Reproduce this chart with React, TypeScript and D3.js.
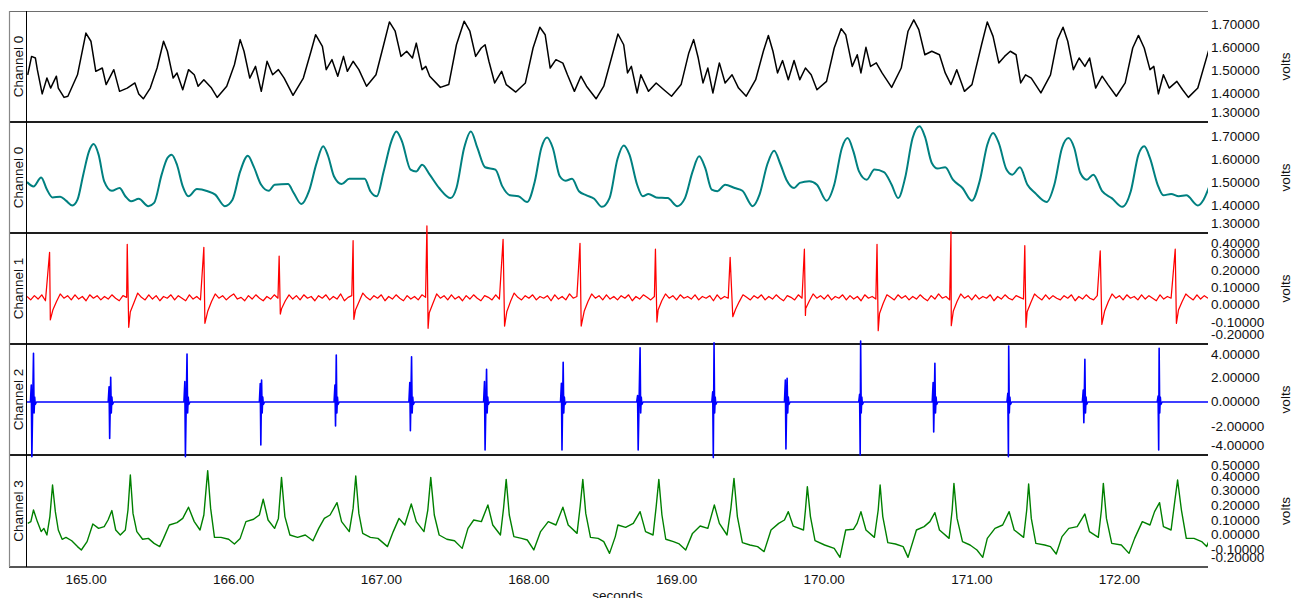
import React from 'react';
import * as d3 from 'd3';

const WIDTH = 1297;
const HEIGHT = 598;
const FRAME_LEFT = 9;
const PLOT_LEFT = 27;
const PLOT_RIGHT = 1208;
const FONT = '"Liberation Sans", Arial, Helvetica, sans-serif';

const timeDomain: [number, number] = [164.6, 172.6];
const timeTicks = [165, 166, 167, 168, 169, 170, 171, 172];

const voltTicks0 = [1.3, 1.4, 1.5, 1.6, 1.7];
const voltTicks1 = [-0.2, -0.1, 0, 0.1, 0.2, 0.3, 0.4];
const voltTicks2 = [-4, -2, 0, 2, 4];
const voltTicks3 = [-0.2, -0.1, 0, 0.1, 0.2, 0.3, 0.4, 0.5];

type Pt = [number, number];

// Channel 0, raw trace (seconds, volts)
const ch0Raw: Pt[] = [
  [164.605, 1.482], [164.631, 1.561], [164.657, 1.554], [164.670, 1.504], [164.703, 1.400], [164.735, 1.468],
  [164.760, 1.425], [164.799, 1.476], [164.812, 1.425], [164.851, 1.385], [164.877, 1.390], [164.942, 1.482],
  [164.999, 1.661], [165.033, 1.626], [165.066, 1.497], [165.110, 1.511], [165.136, 1.440], [165.188, 1.504],
  [165.227, 1.411], [165.279, 1.425], [165.331, 1.447], [165.357, 1.400], [165.388, 1.379], [165.435, 1.425],
  [165.481, 1.511], [165.525, 1.626], [165.551, 1.583], [165.590, 1.468], [165.616, 1.490], [165.655, 1.418],
  [165.694, 1.504], [165.733, 1.482], [165.759, 1.433], [165.798, 1.461], [165.850, 1.425], [165.888, 1.385],
  [165.953, 1.433], [166.005, 1.525], [166.044, 1.633], [166.070, 1.583], [166.109, 1.468], [166.148, 1.518],
  [166.187, 1.411], [166.226, 1.540], [166.264, 1.482], [166.303, 1.504], [166.342, 1.468], [166.402, 1.394],
  [166.472, 1.468], [166.524, 1.583], [166.555, 1.654], [166.601, 1.604], [166.627, 1.504], [166.666, 1.547],
  [166.705, 1.476], [166.744, 1.561], [166.770, 1.497], [166.809, 1.540], [166.848, 1.504], [166.900, 1.433],
  [166.964, 1.482], [167.016, 1.611], [167.055, 1.709], [167.094, 1.669], [167.133, 1.561], [167.172, 1.583],
  [167.211, 1.554], [167.237, 1.618], [167.276, 1.504], [167.302, 1.518], [167.328, 1.476], [167.400, 1.428],
  [167.457, 1.440], [167.509, 1.611], [167.561, 1.712], [167.600, 1.669], [167.639, 1.561], [167.677, 1.597],
  [167.703, 1.611], [167.729, 1.540], [167.768, 1.447], [167.815, 1.497], [167.846, 1.440], [167.911, 1.408],
  [167.976, 1.447], [168.028, 1.597], [168.074, 1.686], [168.110, 1.654], [168.144, 1.511], [168.183, 1.547],
  [168.230, 1.532], [168.261, 1.482], [168.308, 1.411], [168.352, 1.476], [168.390, 1.433], [168.455, 1.379],
  [168.507, 1.433], [168.559, 1.554], [168.603, 1.657], [168.642, 1.611], [168.668, 1.490], [168.694, 1.518],
  [168.733, 1.404], [168.758, 1.482], [168.810, 1.411], [168.862, 1.447], [168.914, 1.418], [168.966, 1.390],
  [169.031, 1.440], [169.083, 1.576], [169.116, 1.633], [169.147, 1.554], [169.179, 1.447], [169.212, 1.511],
  [169.246, 1.404], [169.290, 1.533], [169.329, 1.447], [169.376, 1.482], [169.420, 1.425], [169.472, 1.390],
  [169.536, 1.461], [169.588, 1.583], [169.622, 1.651], [169.653, 1.583], [169.684, 1.490], [169.718, 1.543],
  [169.757, 1.461], [169.796, 1.543], [169.835, 1.461], [169.873, 1.511], [169.912, 1.482], [169.951, 1.418],
  [170.016, 1.454], [170.068, 1.597], [170.115, 1.680], [170.146, 1.654], [170.190, 1.518], [170.224, 1.568],
  [170.249, 1.490], [170.283, 1.600], [170.314, 1.518], [170.353, 1.533], [170.392, 1.490], [170.457, 1.428],
  [170.522, 1.511], [170.568, 1.669], [170.607, 1.718], [170.641, 1.676], [170.682, 1.568], [170.729, 1.583],
  [170.781, 1.568], [170.820, 1.490], [170.859, 1.440], [170.898, 1.504], [170.950, 1.411], [171.001, 1.440],
  [171.066, 1.611], [171.105, 1.709], [171.144, 1.647], [171.183, 1.533], [171.222, 1.561], [171.261, 1.583],
  [171.300, 1.568], [171.331, 1.447], [171.364, 1.482], [171.403, 1.468], [171.468, 1.404], [171.533, 1.482],
  [171.580, 1.633], [171.618, 1.686], [171.650, 1.626], [171.688, 1.504], [171.727, 1.554], [171.766, 1.518],
  [171.798, 1.554], [171.839, 1.425], [171.883, 1.476], [171.922, 1.440], [171.979, 1.390], [172.039, 1.447],
  [172.090, 1.597], [172.129, 1.651], [172.168, 1.597], [172.207, 1.504], [172.233, 1.518], [172.264, 1.400],
  [172.298, 1.482], [172.337, 1.425], [172.389, 1.454], [172.428, 1.418], [172.467, 1.385], [172.531, 1.425],
  [172.609, 1.597],
];

// Channel 0, smoothed trace
const ch0Smooth: Pt[] = [
  [164.600, 1.500], [164.644, 1.481], [164.696, 1.520], [164.735, 1.467], [164.773, 1.433], [164.825, 1.436],
  [164.864, 1.419], [164.908, 1.398], [164.942, 1.423], [164.981, 1.532], [165.020, 1.633], [165.051, 1.665],
  [165.085, 1.619], [165.123, 1.503], [165.175, 1.462], [165.227, 1.474], [165.266, 1.438], [165.305, 1.416],
  [165.357, 1.427], [165.422, 1.395], [165.461, 1.409], [165.512, 1.532], [165.551, 1.604], [165.580, 1.619],
  [165.616, 1.575], [165.655, 1.481], [165.694, 1.438], [165.751, 1.470], [165.824, 1.460], [165.875, 1.445],
  [165.940, 1.395], [165.992, 1.423], [166.044, 1.546], [166.096, 1.614], [166.135, 1.568], [166.186, 1.488],
  [166.238, 1.462], [166.277, 1.488], [166.368, 1.491], [166.407, 1.452], [166.459, 1.404], [166.510, 1.460],
  [166.562, 1.583], [166.606, 1.655], [166.640, 1.612], [166.679, 1.525], [166.731, 1.491], [166.783, 1.514],
  [166.887, 1.514], [166.926, 1.460], [166.970, 1.438], [167.016, 1.546], [167.068, 1.677], [167.102, 1.720],
  [167.140, 1.677], [167.198, 1.554], [167.237, 1.546], [167.276, 1.575], [167.328, 1.532], [167.392, 1.474],
  [167.470, 1.430], [167.509, 1.474], [167.561, 1.648], [167.607, 1.720], [167.651, 1.648], [167.703, 1.564],
  [167.773, 1.554], [167.820, 1.481], [167.872, 1.442], [167.929, 1.438], [167.988, 1.413], [168.040, 1.503],
  [168.084, 1.648], [168.123, 1.694], [168.162, 1.648], [168.209, 1.525], [168.248, 1.506], [168.292, 1.514],
  [168.339, 1.460], [168.390, 1.442], [168.442, 1.427], [168.494, 1.392], [168.546, 1.430], [168.600, 1.600],
  [168.642, 1.659], [168.681, 1.619], [168.733, 1.488], [168.771, 1.438], [168.810, 1.448], [168.862, 1.433],
  [168.940, 1.430], [169.005, 1.395], [169.057, 1.430], [169.109, 1.546], [169.153, 1.612], [169.194, 1.561],
  [169.238, 1.467], [169.277, 1.460], [169.329, 1.488], [169.394, 1.474], [169.446, 1.462], [169.516, 1.395],
  [169.562, 1.445], [169.614, 1.575], [169.661, 1.636], [169.705, 1.575], [169.744, 1.510], [169.796, 1.474],
  [169.835, 1.496], [169.899, 1.503], [169.951, 1.488], [170.016, 1.419], [170.068, 1.488], [170.120, 1.648],
  [170.159, 1.691], [170.198, 1.633], [170.236, 1.546], [170.288, 1.510], [170.340, 1.554], [170.405, 1.543],
  [170.457, 1.488], [170.501, 1.430], [170.548, 1.517], [170.599, 1.691], [170.646, 1.742], [170.682, 1.698],
  [170.729, 1.583], [170.768, 1.559], [170.820, 1.564], [170.872, 1.510], [170.937, 1.474], [171.001, 1.419],
  [171.053, 1.503], [171.105, 1.662], [171.144, 1.713], [171.183, 1.669], [171.235, 1.554], [171.274, 1.532],
  [171.326, 1.564], [171.377, 1.488], [171.429, 1.452], [171.507, 1.413], [171.559, 1.488], [171.611, 1.648],
  [171.655, 1.691], [171.694, 1.648], [171.735, 1.539], [171.779, 1.510], [171.823, 1.532], [171.883, 1.460],
  [171.948, 1.430], [172.020, 1.392], [172.077, 1.460], [172.129, 1.619], [172.168, 1.655], [172.207, 1.604],
  [172.259, 1.488], [172.298, 1.442], [172.350, 1.448], [172.402, 1.438], [172.453, 1.442], [172.531, 1.398],
  [172.570, 1.423], [172.609, 1.481],
];

// Channel 1: baseline sampled every 25 ms from 164.6 s, plus the spikes
const ch1Start = 164.6;
const ch1Step = 0.025;
const ch1Baseline = [
  0.05, 0.03, 0.055, 0.035, 0.06, 0.025, 0.045, -0.03, 0.02, 0.065, 0.04, 0.055, 0.03, 0.06, 0.035, 0.05, 0.025, 0.06, 0.04, 0.055,
  0.03, 0.05, 0.035, 0.06, 0.04, 0.025, 0.055, 0.045, -0.04, 0.015, 0.07, 0.045, 0.03, 0.06, 0.035, 0.055, 0.025, 0.05, 0.04, 0.06,
  0.03, 0.055, 0.04, 0.025, 0.06, 0.035, 0.05, 0.03, 0.045, -0.035, 0.02, 0.065, 0.04, 0.055, 0.03, 0.05, 0.065, 0.035, 0.045, 0.025,
  0.055, 0.035, 0.06, 0.04, 0.025, 0.05, 0.035, 0.06, 0.04, -0.02, 0.025, 0.06, 0.035, 0.055, 0.03, 0.06, 0.04, 0.05, 0.025, 0.055,
  0.04, 0.06, 0.03, 0.05, 0.035, 0.065, 0.025, 0.045, 0.055, -0.03, 0.02, 0.07, 0.045, 0.03, 0.055, 0.04, 0.06, 0.025, 0.05, 0.035,
  0.06, 0.04, 0.025, 0.055, 0.035, 0.05, 0.03, 0.06, 0.045, -0.045, 0.01, 0.065, 0.04, 0.055, 0.03, 0.06, 0.035, 0.05, 0.025, 0.055,
  0.035, 0.06, 0.04, 0.025, 0.055, 0.045, 0.03, 0.06, 0.035, 0.05, -0.04, 0.02, 0.07, 0.045, 0.03, 0.055, 0.04, 0.06, 0.03, 0.05,
  0.04, 0.055, 0.025, 0.06, 0.035, 0.05, 0.03, 0.065, 0.04, 0.05, 0.035, -0.035, 0.02, 0.065, 0.04, 0.055, 0.03, 0.06, 0.035, 0.05,
  0.03, 0.055, 0.04, 0.06, 0.025, 0.05, 0.035, 0.06, 0.045, 0.03, 0.05, -0.03, 0.025, 0.065, 0.04, 0.055, 0.03, 0.06, 0.04, 0.05,
  0.035, 0.06, 0.03, 0.05, 0.04, 0.055, 0.025, 0.06, 0.035, 0.05, 0.04, 0.045, -0.025, 0.02, 0.06, 0.045, 0.03, 0.055, 0.04, 0.06,
  0.03, 0.05, 0.035, 0.06, 0.04, 0.025, 0.055, 0.045, 0.03, 0.06, 0.04, -0.02, 0.025, 0.065, 0.04, 0.055, 0.035, 0.06, 0.03, 0.05,
  0.04, 0.06, 0.03, 0.055, 0.035, 0.05, 0.025, 0.06, 0.04, 0.05, 0.035, -0.05, 0.01, 0.06, 0.045, 0.03, 0.06, 0.04, 0.055, 0.03,
  0.05, 0.035, 0.06, 0.04, 0.025, 0.055, 0.035, 0.065, 0.04, 0.05, 0.03, -0.035, 0.02, 0.065, 0.04, 0.055, 0.03, 0.06, 0.035, 0.05,
  0.04, 0.06, 0.025, 0.05, 0.035, 0.06, 0.04, 0.03, 0.055, 0.045, 0.035, -0.04, 0.015, 0.065, 0.045, 0.03, 0.06, 0.035, 0.055, 0.04,
  0.03, 0.055, 0.04, 0.06, 0.025, 0.05, 0.035, 0.06, 0.04, 0.03, 0.055, 0.045, -0.035, 0.02, 0.065, 0.04, 0.055, 0.03, 0.06, 0.04,
  0.05, 0.03, 0.06, 0.035, 0.055, 0.04, 0.025, 0.06, 0.035, 0.05, 0.04, 0.045, -0.03, 0.02, 0.065, 0.045, 0.03, 0.06, 0.035, 0.055,
  0.04,
];
// [peak time, peak volts, trough time, trough volts]
const ch1Spikes = [
  [164.753, 0.310, 164.758, -0.088], [165.279, 0.357, 165.289, -0.131], [165.798, 0.339, 165.805, -0.108],
  [166.308, 0.288, 166.316, -0.053], [166.809, 0.378, 166.814, -0.084], [167.309, 0.465, 167.317, -0.137],
  [167.825, 0.386, 167.835, -0.124], [168.346, 0.363, 168.354, -0.124], [168.857, 0.328, 168.867, -0.100],
  [169.363, 0.280, 169.381, -0.069], [169.866, 0.328, 169.873, -0.061], [170.358, 0.357, 170.366, -0.151],
  [170.859, 0.431, 170.861, -0.122], [171.359, 0.349, 171.367, -0.131], [171.870, 0.319, 171.881, -0.114],
  [172.378, 0.328, 172.386, -0.108],
];

// Channel 2: [trough time, peak time, pre-deflection, trough volts, peak volts]
const ch2Complexes = [
  [164.633, 164.644, 1.39, -4.46, 3.97], [165.160, 165.167, 1.25, -2.97, 2.01], [165.673, 165.684, 1.66, -4.46, 3.92],
  [166.184, 166.189, 1.50, -3.51, 1.80], [166.690, 166.695, 1.39, -1.96, 3.84], [167.197, 167.205, 1.58, -2.34, 3.70],
  [167.703, 167.713, 1.66, -3.92, 2.67], [168.224, 168.232, 1.52, -3.92, 3.24], [168.740, 168.753, 0.52, -3.92, 4.43],
  [169.249, 169.254, 0.84, -4.54, 4.84], [169.741, 169.749, 1.80, -3.84, 1.93], [170.244, 170.247, 0.63, -4.33, 4.98],
  [170.742, 170.750, 1.58, -2.45, 3.16], [171.248, 171.250, 0.71, -4.46, 4.57], [171.759, 171.766, 0.98, -1.69, 3.48],
  [172.266, 172.269, 0.49, -3.92, 4.38],
];
const ch2Ring = [-0.9, 0.4, -0.2];

// Channel 3
const ch3: Pt[] = [
  [164.605, 0.079], [164.626, 0.091], [164.644, 0.170], [164.670, 0.091], [164.696, 0.023], [164.714, 0.045],
  [164.735, 0.000], [164.755, 0.125], [164.773, 0.340], [164.792, 0.159], [164.812, 0.034], [164.838, -0.029],
  [164.864, -0.016], [164.903, -0.039], [164.942, -0.079], [164.968, -0.102], [165.007, -0.045], [165.046, 0.075],
  [165.085, 0.045], [165.123, 0.057], [165.149, 0.102], [165.175, 0.166], [165.201, 0.034], [165.232, 0.000],
  [165.266, 0.034], [165.284, 0.170], [165.300, 0.408], [165.318, 0.147], [165.344, 0.023], [165.383, -0.029],
  [165.422, -0.023], [165.461, -0.057], [165.499, -0.079], [165.525, -0.023], [165.564, 0.068], [165.616, 0.084],
  [165.655, 0.113], [165.694, 0.189], [165.733, 0.091], [165.772, 0.034], [165.798, 0.136], [165.824, 0.438],
  [165.844, 0.181], [165.870, -0.016], [165.914, -0.016], [165.966, -0.029], [166.005, -0.061], [166.044, -0.023],
  [166.083, 0.091], [166.135, 0.107], [166.174, 0.136], [166.200, 0.243], [166.233, 0.102], [166.277, 0.045],
  [166.303, 0.113], [166.324, 0.392], [166.347, 0.125], [166.381, 0.000], [166.433, -0.016], [166.485, 0.000],
  [166.537, -0.039], [166.576, 0.045], [166.614, 0.113], [166.653, 0.136], [166.700, 0.220], [166.731, 0.091],
  [166.783, 0.023], [166.809, 0.181], [166.827, 0.401], [166.848, 0.147], [166.874, 0.011], [166.926, -0.016],
  [166.977, -0.023], [167.042, -0.079], [167.081, 0.023], [167.120, 0.113], [167.159, 0.068], [167.203, 0.211],
  [167.237, 0.091], [167.289, 0.023], [167.315, 0.170], [167.335, 0.392], [167.359, 0.136], [167.392, 0.000],
  [167.444, -0.029], [167.496, -0.039], [167.548, -0.091], [167.587, 0.045], [167.626, 0.102], [167.678, 0.091],
  [167.722, 0.204], [167.755, 0.068], [167.807, 0.000], [167.828, 0.181], [167.846, 0.378], [167.867, 0.136],
  [167.898, -0.011], [167.950, -0.023], [167.989, -0.034], [168.033, -0.102], [168.079, 0.023], [168.131, 0.091],
  [168.183, 0.068], [168.230, 0.189], [168.266, 0.068], [168.326, 0.011], [168.347, 0.193], [168.365, 0.378],
  [168.385, 0.147], [168.417, -0.016], [168.469, -0.023], [168.507, -0.045], [168.546, -0.125], [168.585, -0.011],
  [168.603, 0.068], [168.655, 0.052], [168.707, 0.079], [168.753, 0.159], [168.790, 0.023], [168.841, 0.000],
  [168.862, 0.193], [168.880, 0.378], [168.901, 0.136], [168.927, -0.029], [168.979, -0.045], [169.018, -0.061],
  [169.062, -0.102], [169.108, 0.011], [169.160, 0.061], [169.212, 0.045], [169.256, 0.204], [169.290, 0.079],
  [169.342, 0.000], [169.368, 0.181], [169.389, 0.385], [169.412, 0.125], [169.446, -0.052], [169.497, -0.068],
  [169.549, -0.079], [169.593, -0.113], [169.640, 0.034], [169.692, 0.079], [169.731, 0.102], [169.757, 0.159],
  [169.790, 0.061], [169.860, 0.034], [169.873, 0.170], [169.886, 0.329], [169.907, 0.125], [169.938, -0.039],
  [170.003, -0.068], [170.068, -0.091], [170.107, -0.152], [170.146, 0.034], [170.198, 0.039], [170.223, 0.079],
  [170.249, 0.159], [170.283, 0.034], [170.340, -0.016], [170.366, 0.170], [170.379, 0.340], [170.397, 0.125],
  [170.431, -0.052], [170.483, -0.061], [170.535, -0.079], [170.568, -0.152], [170.625, 0.034], [170.677, 0.057],
  [170.716, 0.091], [170.750, 0.152], [170.781, 0.034], [170.846, -0.023], [170.867, 0.170], [170.879, 0.351],
  [170.900, 0.113], [170.937, -0.045], [170.988, -0.068], [171.035, -0.102], [171.074, -0.152], [171.105, -0.023],
  [171.157, 0.045], [171.209, 0.068], [171.253, 0.159], [171.287, 0.034], [171.351, -0.016], [171.372, 0.170],
  [171.385, 0.347], [171.403, 0.113], [171.434, -0.057], [171.494, -0.068], [171.533, -0.079], [171.572, -0.129],
  [171.611, -0.011], [171.657, 0.045], [171.714, 0.057], [171.766, 0.143], [171.797, 0.023], [171.857, -0.016],
  [171.878, 0.170], [171.891, 0.351], [171.912, 0.113], [171.948, -0.057], [172.013, -0.068], [172.065, -0.125],
  [172.103, -0.023], [172.155, 0.091], [172.207, 0.068], [172.238, 0.159], [172.272, 0.220], [172.298, 0.057],
  [172.350, 0.034], [172.376, 0.238], [172.394, 0.374], [172.420, 0.170], [172.453, -0.023], [172.505, -0.023],
  [172.557, -0.045], [172.591, -0.079], [172.609, -0.034],
];

function buildCh1(): Pt[] {
  const pts: Pt[] = ch1Baseline
    .map((v, i) => [ch1Start + i * ch1Step, v] as Pt)
    .filter(([t]) => !ch1Spikes.some(([tp, , tt]) => t > tp - 0.004 && t < tt + 0.002));
  ch1Spikes.forEach(([tp, vp, tt, vt]) => {
    pts.push([tp, vp], [tt, vt]);
  });
  return pts.sort((a, b) => a[0] - b[0]);
}

function buildCh2(): Pt[] {
  const pts: Pt[] = [[timeDomain[0], 0]];
  ch2Complexes.forEach(([td, tu, pre, tr, pk]) => {
    const tPeak = Math.max(tu, td + 0.002);
    pts.push([td - 0.01, 0], [td - 0.004, pre], [td, tr], [tPeak, pk]);
    ch2Ring.forEach((r, k) => pts.push([tPeak + 0.004 * (k + 1), r]));
    pts.push([tPeak + 0.02, 0]);
  });
  pts.push([timeDomain[1], 0]);
  return pts;
}

interface Panel {
  name: string;
  top: number;
  bottom: number;
  domain: [number, number];
  ticks: number[];
  color: string;
  width: number;
  smooth: boolean;
  data: Pt[];
}

const panels: Panel[] = [
  { name: 'Channel 0', top: 11, bottom: 122, domain: [1.2794, 1.7558], ticks: voltTicks0, color: '#000000', width: 1.5, smooth: false, data: ch0Raw },
  { name: 'Channel 0', top: 122, bottom: 233, domain: [1.2783, 1.7609], ticks: voltTicks0, color: '#008080', width: 2, smooth: true, data: ch0Smooth },
  { name: 'Channel 1', top: 233, bottom: 344, domain: [-0.2294, 0.4235], ticks: voltTicks1, color: '#ff0000', width: 1.25, smooth: false, data: buildCh1() },
  { name: 'Channel 2', top: 344, bottom: 455, domain: [-4.327, 4.735], ticks: voltTicks2, color: '#0000ff', width: 1.6, smooth: false, data: buildCh2() },
  { name: 'Channel 3', top: 455, bottom: 567, domain: [-0.2177, 0.5442], ticks: voltTicks3, color: '#008000', width: 1.4, smooth: false, data: ch3 },
];

export default function App() {
  const x = d3.scaleLinear().domain(timeDomain).range([PLOT_LEFT, PLOT_RIGHT]);
  const bottom = panels[panels.length - 1].bottom;

  return (
    <svg
      width={WIDTH}
      height={HEIGHT}
      style={{ position: 'absolute', left: 0, top: 0, background: '#ffffff' }}
      fontFamily={FONT}
    >
      <defs>
        <clipPath id="plot-clip">
          <rect x={PLOT_LEFT} y={0} width={PLOT_RIGHT - PLOT_LEFT} height={HEIGHT} />
        </clipPath>
      </defs>

      {/* frame */}
      <line x1={FRAME_LEFT} x2={PLOT_RIGHT} y1={11.5} y2={11.5} stroke="#6e6e6e" strokeWidth={1.2} />
      {panels.slice(1).map((p, i) => (
        <line key={'sep' + i} x1={FRAME_LEFT} x2={PLOT_RIGHT} y1={p.top} y2={p.top} stroke="#1e1e1e" strokeWidth={2.2} />
      ))}
      <line x1={FRAME_LEFT} x2={PLOT_RIGHT} y1={bottom} y2={bottom} stroke="#555" strokeWidth={2} />
      <line x1={FRAME_LEFT + 0.5} x2={FRAME_LEFT + 0.5} y1={11} y2={bottom} stroke="#888" strokeWidth={1.2} />
      <line x1={PLOT_LEFT - 0.5} x2={PLOT_LEFT - 0.5} y1={11} y2={bottom} stroke="#000" strokeWidth={1} />

      {panels.map((p, i) => {
        const y = d3.scaleLinear().domain(p.domain).range([p.bottom, p.top]);
        const line = d3
          .line<Pt>()
          .x((d) => x(d[0]))
          .y((d) => y(d[1]))
          .curve(p.smooth ? d3.curveMonotoneX : d3.curveLinear);
        const mid = (p.top + p.bottom) / 2;
        return (
          <g key={'panel' + i}>
            <path
              d={line(p.data) || ''}
              fill="none"
              stroke={p.color}
              strokeWidth={p.width}
              strokeLinejoin="round"
              clipPath="url(#plot-clip)"
            />
            <text
              transform={`translate(18,${mid}) rotate(-90)`}
              textAnchor="middle"
              dominantBaseline="central"
              fontSize={13.5}
              fill="#111"
            >
              {p.name}
            </text>
            {p.ticks.map((t) => {
              const ty = Math.min(Math.max(y(t), p.top + 10), p.bottom - 10);
              return (
                <text key={t} x={1211} y={ty} dominantBaseline="central" fontSize={13.5} fill="#111">
                  {t.toFixed(5)}
                </text>
              );
            })}
            <text
              transform={`translate(1285,${mid}) rotate(-90)`}
              textAnchor="middle"
              dominantBaseline="central"
              fontSize={13.5}
              fill="#111"
            >
              volts
            </text>
          </g>
        );
      })}

      {timeTicks.map((t) => (
        <text key={t} x={x(t)} y={579} textAnchor="middle" dominantBaseline="central" fontSize={13.5} fill="#111">
          {t.toFixed(2)}
        </text>
      ))}
      <text x={(PLOT_LEFT + PLOT_RIGHT) / 2} y={595} textAnchor="middle" dominantBaseline="central" fontSize={13.5} fill="#111">
        seconds
      </text>
    </svg>
  );
}
